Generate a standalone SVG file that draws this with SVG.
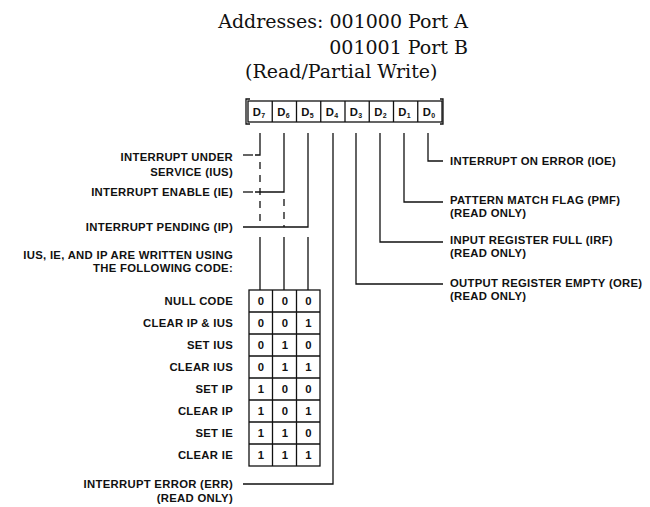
<svg xmlns="http://www.w3.org/2000/svg" width="650" height="507" viewBox="0 0 650 507">
<style>
.t{font-family:"DejaVu Serif","Liberation Serif",serif;font-size:19px;fill:#111}
.l{font-family:"Liberation Sans",Arial,sans-serif;font-weight:bold;font-size:11.3px;fill:#111;letter-spacing:0.3px}
.e{text-anchor:end}
.m{text-anchor:middle}
.c{fill:none;stroke:#111;stroke-width:1.3}
.d{fill:none;stroke:#111;stroke-width:1.3;stroke-dasharray:7,6}
.b{fill:none;stroke:#111;stroke-width:1.3}
.sub{font-size:7px}
</style>
<rect width="650" height="507" fill="#fff"/>
<g id="title">
<text class="t e" x="468" y="28">Addresses: 001000 Port A</text>
<text class="t e" x="468" y="54">001001 Port B</text>
<text class="t" x="245" y="78">(Read/Partial Write)</text>
</g>
<g id="register">
<rect class="b" x="248" y="101" width="194" height="21"/>
<path class="b" d="M272.25 101V122M296.5 101V122M320.75 101V122M345 101V122M369.25 101V122M393.5 101V122M417.75 101V122"/>
<path class="b" d="M250 99H246V124H250M440 99H443V124H440" stroke-width="2"/>
<text class="l m" x="259" y="115.5">D<tspan class="sub" dy="2">7</tspan></text>
<text class="l m" x="283.5" y="115.5">D<tspan class="sub" dy="2">6</tspan></text>
<text class="l m" x="307.5" y="115.5">D<tspan class="sub" dy="2">5</tspan></text>
<text class="l m" x="332" y="115.5">D<tspan class="sub" dy="2">4</tspan></text>
<text class="l m" x="356" y="115.5">D<tspan class="sub" dy="2">3</tspan></text>
<text class="l m" x="380.5" y="115.5">D<tspan class="sub" dy="2">2</tspan></text>
<text class="l m" x="404.5" y="115.5">D<tspan class="sub" dy="2">1</tspan></text>
<text class="l m" x="429" y="115.5">D<tspan class="sub" dy="2">0</tspan></text>
</g>
<g id="connectors">
<path class="c" d="M260 133V155H255"/>
<path class="c" d="M253 155H243"/>
<path class="d" d="M260 162V227"/>
<path class="c" d="M284 133V192H255"/>
<path class="c" d="M253 192H243"/>
<path class="d" d="M284 199V227"/>
<path class="c" d="M308 133V227H243"/>
<path class="c" d="M260 237V290M284 237V290M308 237V290"/>
<path class="c" d="M333 133V484H243"/>
<path class="c" d="M356 133V284H443"/>
<path class="c" d="M380 133V242H443"/>
<path class="c" d="M404 133V202H443"/>
<path class="c" d="M428 133V161H443"/>
</g>
<g id="left-labels">
<text class="l e" x="233" y="161">INTERRUPT UNDER</text>
<text class="l e" x="233" y="176">SERVICE (IUS)</text>
<text class="l e" x="233" y="196">INTERRUPT ENABLE (IE)</text>
<text class="l e" x="233" y="231">INTERRUPT PENDING (IP)</text>
<text class="l e" x="233" y="259">IUS, IE, AND IP ARE WRITTEN USING</text>
<text class="l e" x="233" y="272">THE FOLLOWING CODE:</text>
<text class="l e" x="233" y="488">INTERRUPT ERROR (ERR)</text>
<text class="l e" x="233" y="502">(READ ONLY)</text>
</g>
<g id="right-labels">
<text class="l" x="450" y="165">INTERRUPT ON ERROR (IOE)</text>
<text class="l" x="450" y="204">PATTERN MATCH FLAG (PMF)</text>
<text class="l" x="450" y="217">(READ ONLY)</text>
<text class="l" x="450" y="244">INPUT REGISTER FULL (IRF)</text>
<text class="l" x="450" y="257">(READ ONLY)</text>
<text class="l" x="450" y="287">OUTPUT REGISTER EMPTY (ORE)</text>
<text class="l" x="450" y="300">(READ ONLY)</text>
</g>
<g id="code-table">
<rect class="b" x="249" y="290" width="71" height="176"/>
<path class="b" d="M272.5 290V466M296.5 290V466M249 312H320M249 334H320M249 356H320M249 378H320M249 400H320M249 422H320M249 444H320"/>
<text class="l e" x="233" y="305">NULL CODE</text>
<text class="l e" x="233" y="327">CLEAR IP &amp; IUS</text>
<text class="l e" x="233" y="349">SET IUS</text>
<text class="l e" x="233" y="371">CLEAR IUS</text>
<text class="l e" x="233" y="393">SET IP</text>
<text class="l e" x="233" y="415">CLEAR IP</text>
<text class="l e" x="233" y="437">SET IE</text>
<text class="l e" x="233" y="459">CLEAR IE</text>
<text class="l m" x="261" y="305">0</text><text class="l m" x="285" y="305">0</text><text class="l m" x="308.5" y="305">0</text>
<text class="l m" x="261" y="327">0</text><text class="l m" x="285" y="327">0</text><text class="l m" x="308.5" y="327">1</text>
<text class="l m" x="261" y="349">0</text><text class="l m" x="285" y="349">1</text><text class="l m" x="308.5" y="349">0</text>
<text class="l m" x="261" y="371">0</text><text class="l m" x="285" y="371">1</text><text class="l m" x="308.5" y="371">1</text>
<text class="l m" x="261" y="393">1</text><text class="l m" x="285" y="393">0</text><text class="l m" x="308.5" y="393">0</text>
<text class="l m" x="261" y="415">1</text><text class="l m" x="285" y="415">0</text><text class="l m" x="308.5" y="415">1</text>
<text class="l m" x="261" y="437">1</text><text class="l m" x="285" y="437">1</text><text class="l m" x="308.5" y="437">0</text>
<text class="l m" x="261" y="459">1</text><text class="l m" x="285" y="459">1</text><text class="l m" x="308.5" y="459">1</text>
</g>
</svg>
